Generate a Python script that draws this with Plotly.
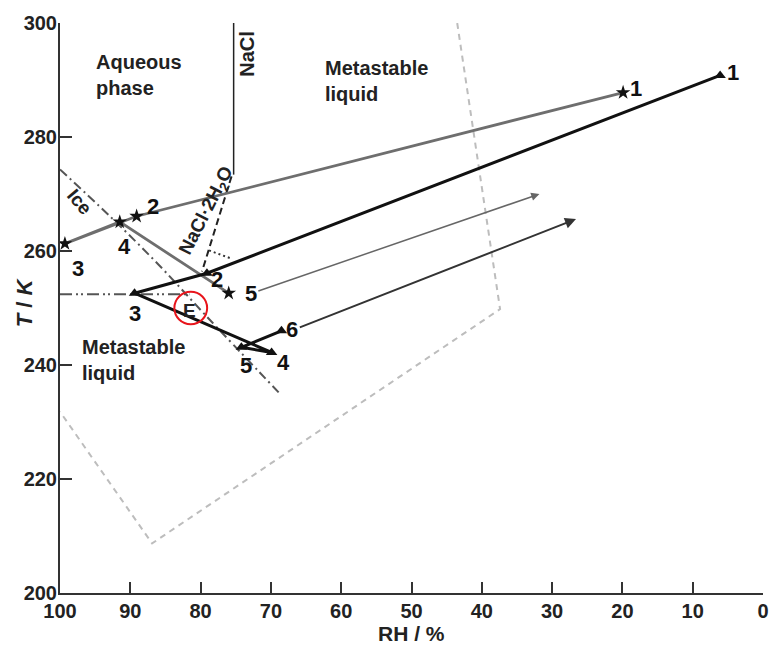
import plotly.graph_objects as go

# ---------------- data ----------------
rh_tick_labels = [100, 90, 80, 70, 60, 50, 40, 30, 20, 10, 0]
rh_tick_marks = [90, 80, 70, 60, 50, 40, 30, 20, 10]
t_tick_labels = [300, 280, 260, 240, 220, 200]
t_tick_marks = [280, 260, 240, 220]

# phase boundaries
nacl_rh = [75.3, 75.3]
nacl_t = [300.0, 273.4]
hydrate_rh = [75.6, 79.8]
hydrate_t = [273.1, 256.4]
hydrate_dot_rh = [78.8, 75.7]
hydrate_dot_t = [260.1, 258.7]
ice_rh = [100.0, 92.9, 85.9, 79.2, 68.9]
ice_t = [274.3, 266.1, 257.5, 248.6, 235.2]
eutectic_rh = [100.0, 81.6]
eutectic_t = [252.4, 252.4]
eutectic_point_rh = 81.4
eutectic_point_t = 250.0

# light grey dashed region
region_rh = [43.5, 37.4, 86.9, 100.0]
region_t = [300.0, 249.8, 208.7, 231.8]

# star path (grey)
star_rh = [19.9, 89.1, 99.3, 91.5, 76.0]
star_t = [287.8, 266.1, 261.3, 265.1, 252.6]
star_lbl = ["1", "2", "3", "4", "5"]
star_arrow_rh = [72.0, 31.8]
star_arrow_t = [252.9, 270.0]

# triangle path (black)
tri_rh = [6.1, 79.1, 89.4, 69.9, 74.2, 68.5]
tri_t = [290.8, 256.1, 252.6, 242.2, 243.1, 246.0]
tri_lbl = ["1", "2", "3", "4", "5", "6"]
tri_arrow_rh = [66.1, 26.6]
tri_arrow_t = [246.5, 265.6]

# ---------------- styling ----------------
FONT = "Liberation Sans, Arial, sans-serif"
star_off = [(13, -4), (16, -10), (13, 25), (5, 25), (22, 0)]
tri_off = [(13, -3), (10, 6), (0, 20), (12, 10), (5, 18), (11, -1)]

fig = go.Figure()

fig.add_trace(go.Scatter(x=region_rh, y=region_t, mode="lines",
                         line=dict(color="#bdbdbd", width=2, dash="6px,5px"),
                         hoverinfo="skip", showlegend=False))
fig.add_trace(go.Scatter(x=ice_rh, y=ice_t, mode="lines", line_shape="spline",
                         line=dict(color="#555555", width=2, dash="9px,4px,2px,4px"),
                         showlegend=False))
fig.add_trace(go.Scatter(x=eutectic_rh, y=eutectic_t, mode="lines",
                         line=dict(color="#555555", width=2, dash="12px,4px,2px,3px,2px,4px"),
                         showlegend=False))
fig.add_trace(go.Scatter(x=nacl_rh, y=nacl_t, mode="lines",
                         line=dict(color="#222222", width=1.5), showlegend=False))
fig.add_trace(go.Scatter(x=hydrate_rh, y=hydrate_t, mode="lines",
                         line=dict(color="#222222", width=2, dash="7px,4px"), showlegend=False))
fig.add_trace(go.Scatter(x=hydrate_dot_rh, y=hydrate_dot_t, mode="lines",
                         line=dict(color="#333333", width=2, dash="2px,3px"), showlegend=False))

fig.add_trace(go.Scatter(x=star_rh, y=star_t, mode="lines+markers",
                         line=dict(color="#6e6e6e", width=2.8),
                         marker=dict(symbol="star", size=11, color="#111111"),
                         showlegend=False))
fig.add_trace(go.Scatter(x=tri_rh, y=tri_t, mode="lines+markers",
                         line=dict(color="#111111", width=3),
                         marker=dict(symbol="triangle-up", size=10, color="#111111"),
                         showlegend=False))

# dummy trace for label axes
fig.add_trace(go.Scatter(x=[None], y=[None], xaxis="x2", yaxis="y2", showlegend=False))

ann = []
# arrows
ann.append(dict(x=star_arrow_rh[1], y=star_arrow_t[1], ax=star_arrow_rh[0], ay=star_arrow_t[0],
                xref="x", yref="y", axref="x", ayref="y", showarrow=True,
                arrowhead=2, arrowsize=1.1, arrowwidth=1.5, arrowcolor="#666666", text=""))
ann.append(dict(x=tri_arrow_rh[1], y=tri_arrow_t[1], ax=tri_arrow_rh[0], ay=tri_arrow_t[0],
                xref="x", yref="y", axref="x", ayref="y", showarrow=True,
                arrowhead=2, arrowsize=1.1, arrowwidth=2, arrowcolor="#333333", text=""))

for (x, y, s, (dx, dy)) in zip(star_rh, star_t, star_lbl, star_off):
    ann.append(dict(x=x, y=y, text="<b>%s</b>" % s, showarrow=False, xshift=dx, yshift=-dy,
                    font=dict(family=FONT, size=22, color="#111111")))
for (x, y, s, (dx, dy)) in zip(tri_rh, tri_t, tri_lbl, tri_off):
    ann.append(dict(x=x, y=y, text="<b>%s</b>" % s, showarrow=False, xshift=dx, yshift=-dy,
                    font=dict(family=FONT, size=22, color="#111111")))

# region labels
lab_font = dict(family=FONT, size=20, color="#222222")
ann.append(dict(x=95.2, y=290.9, text="<b>Aqueous</b><br><b>phase</b>", showarrow=False,
                xanchor="left", yanchor="middle", align="left", font=lab_font))
ann.append(dict(x=62.6, y=289.9, text="<b>Metastable</b><br><b>liquid</b>", showarrow=False,
                xanchor="left", yanchor="middle", align="left", font=lab_font))
ann.append(dict(x=97.2, y=240.8, text="<b>Metastable</b><br><b>liquid</b>", showarrow=False,
                xanchor="left", yanchor="middle", align="left", font=lab_font))
ann.append(dict(x=73.4, y=294.6, text="<b>NaCl</b>", showarrow=False, textangle=-90,
                font=lab_font))
ann.append(dict(x=97.3, y=268.6, text="<b>Ice</b>", showarrow=False, textangle=50,
                font=dict(family=FONT, size=19, color="#222222")))
ann.append(dict(x=79.1, y=267.0, text="<b>NaCl·2H<sub>2</sub>O</b>", showarrow=False,
                textangle=-63, font=dict(family=FONT, size=19, color="#222222")))
ann.append(dict(x=eutectic_point_rh, y=eutectic_point_t, text="<b>E</b>", showarrow=False,
                xshift=-1, yshift=-2, font=dict(family=FONT, size=19, color="#222222")))

# axis titles
ann.append(dict(x=0.5, y=0, xref="paper", yref="paper", text="<b>RH / %</b>", showarrow=False,
                xanchor="center", yanchor="middle", yshift=-40,
                font=dict(family=FONT, size=21, color="#222222")))
ann.append(dict(x=0, y=0.51, xref="paper", yref="paper", text="<b><i>T</i> / <i>K</i></b>",
                showarrow=False, xanchor="center", yanchor="middle", xshift=-36, textangle=-90,
                font=dict(family=FONT, size=22, color="#222222")))

shapes = [dict(type="circle", xref="x", yref="y",
               x0=eutectic_point_rh + 2.33, x1=eutectic_point_rh - 2.33,
               y0=eutectic_point_t - 2.86, y1=eutectic_point_t + 2.86,
               line=dict(color="#e8141b", width=2))]

tick_font = dict(family=FONT, size=20, color="#222222")
fig.update_layout(
    width=781, height=647,
    margin=dict(l=60, r=13, t=17, b=54),
    paper_bgcolor="white", plot_bgcolor="white",
    annotations=ann, shapes=shapes,
    xaxis=dict(range=[100, 0], showline=True, linecolor="#333333", linewidth=2,
               ticks="inside", tickvals=rh_tick_marks, ticklen=11, tickwidth=1.5,
               tickcolor="#333333", showticklabels=False, showgrid=False, zeroline=False),
    yaxis=dict(range=[200, 300], showline=True, linecolor="#333333", linewidth=2,
               ticks="inside", tickvals=t_tick_marks, ticklen=12, tickwidth=1.5,
               tickcolor="#333333", showticklabels=False, showgrid=False, zeroline=False),
    xaxis2=dict(range=[100, 0], overlaying="x", anchor="y2", side="bottom",
                tickvals=rh_tick_labels, ticktext=["<b>%d</b>" % v for v in rh_tick_labels],
                ticks="", showline=False, showgrid=False, zeroline=False,
                tickfont=tick_font, ticklabelstandoff=4),
    yaxis2=dict(range=[200, 300], overlaying="y", anchor="x2", side="left",
                tickvals=t_tick_labels, ticktext=["<b>%d</b>" % v for v in t_tick_labels],
                ticks="", showline=False, showgrid=False, zeroline=False,
                tickfont=tick_font, ticklabelstandoff=2),
)

fig.write_html("out.html")
